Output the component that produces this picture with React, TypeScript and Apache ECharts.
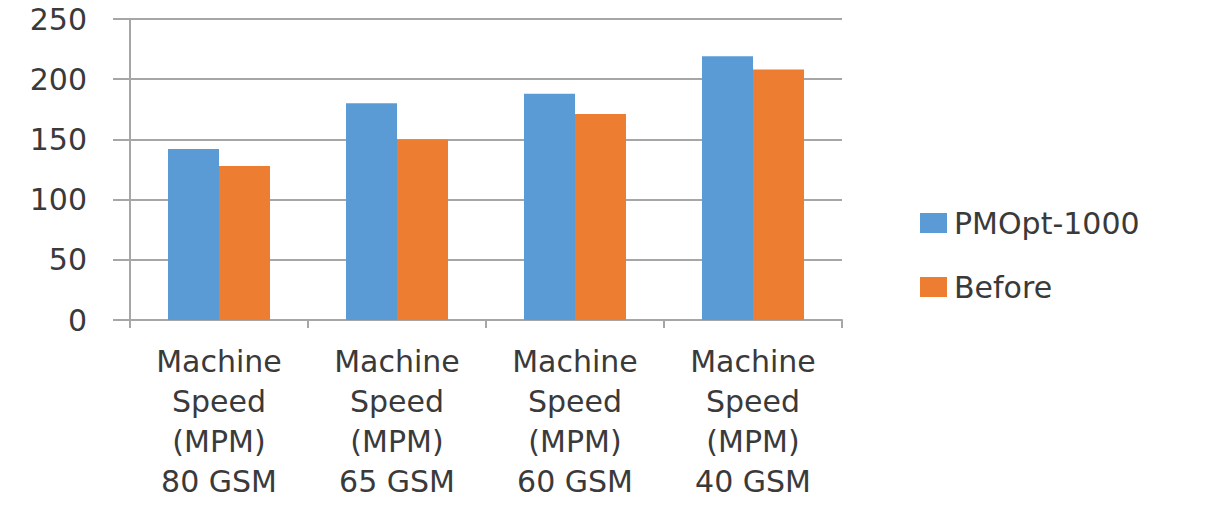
import React, { useEffect, useRef } from 'react';
import * as echarts from 'echarts';

const categories = [
  'Machine\nSpeed\n(MPM)\n80 GSM',
  'Machine\nSpeed\n(MPM)\n65 GSM',
  'Machine\nSpeed\n(MPM)\n60 GSM',
  'Machine\nSpeed\n(MPM)\n40 GSM',
];
const pmopt = [142, 180, 188, 219];
const before = [128, 150, 171, 208];
const seriesNames = ['PMOpt-1000', 'Before'];

const FONT = '"DejaVu Sans", sans-serif';
const TEXT = '#3a3a3a';
const LINE = '#a6a6a6';

const App: React.FC = () => {
  const chartRef: any = useRef(null);

  useEffect(() => {
    const chart = echarts.init(chartRef.current, null, { renderer: 'svg' });
    const option = {
      animation: false,
      grid: { left: 130, right: 373, top: 19, bottom: 191, containLabel: false },
      legend: {
        orient: 'vertical',
        left: 915,
        top: 203,
        itemWidth: 27,
        itemHeight: 20,
        itemGap: 34,
        icon: 'rect',
        textStyle: { fontFamily: FONT, fontSize: 30, color: TEXT, padding: [0, 0, 0, 2] },
        data: seriesNames,
      },
      xAxis: {
        type: 'category',
        data: categories,
        axisLine: { show: true, lineStyle: { color: LINE, width: 2 } },
        axisTick: { show: true, length: 8, lineStyle: { color: LINE, width: 2 } },
        axisLabel: {
          fontFamily: FONT,
          fontSize: 30,
          color: TEXT,
          lineHeight: 40,
          margin: 21,
          interval: 0,
        },
      },
      yAxis: {
        type: 'value',
        min: 0,
        max: 250,
        interval: 50,
        axisLine: { show: true, lineStyle: { color: LINE, width: 2 } },
        axisTick: { show: true, length: 17, lineStyle: { color: LINE, width: 2 } },
        splitLine: { show: true, lineStyle: { color: LINE, width: 2 } },
        axisLabel: { fontFamily: FONT, fontSize: 30, color: TEXT, margin: 43 },
      },
      series: [
        {
          name: seriesNames[0],
          type: 'bar',
          data: pmopt,
          barWidth: 51,
          barGap: '0%',
          itemStyle: { color: '#5B9BD5' },
        },
        {
          name: seriesNames[1],
          type: 'bar',
          data: before,
          barWidth: 51,
          barGap: '0%',
          itemStyle: { color: '#ED7D31' },
        },
      ],
    };
    chart.setOption(option);
    return () => {
      chart.dispose();
    };
  }, []);

  return (
    <div
      ref={chartRef}
      style={{ position: 'fixed', left: 0, top: 0, width: 1215, height: 511, background: '#fff' }}
    ></div>
  );
};

export default App;
